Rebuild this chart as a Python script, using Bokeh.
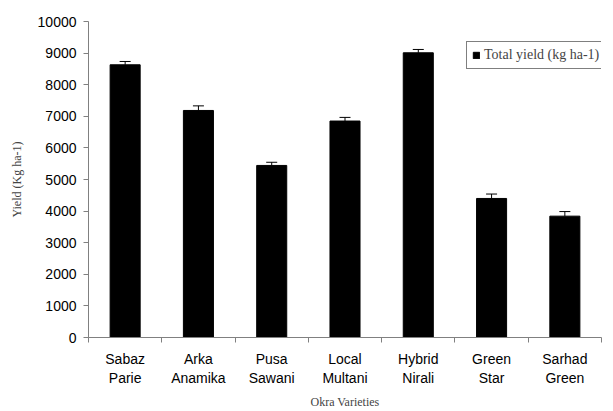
from bokeh.plotting import figure
from bokeh.models import ColumnDataSource, Whisker, FixedTicker, Legend, LegendItem, Range1d
from bokeh.embed import file_html
from bokeh.resources import INLINE

categories = ["Sabaz\nParie", "Arka\nAnamika", "Pusa\nSawani", "Local\nMultani",
              "Hybrid\nNirali", "Green\nStar", "Sarhad\nGreen"]
yield_values = [8630, 7185, 5445, 6850, 9010, 4400, 3840]
errors = [105, 145, 100, 115, 105, 140, 145]
y_ticks = [0, 1000, 2000, 3000, 4000, 5000, 6000, 7000, 8000, 9000, 10000]

xpos = [i + 0.5 for i in range(len(categories))]
upper = [v + e for v, e in zip(yield_values, errors)]
src = ColumnDataSource(dict(x=xpos, top=yield_values, upper=upper))

p = figure(width=613, height=411, output_backend="svg", toolbar_location=None,
           x_range=Range1d(0, len(categories)), y_range=Range1d(0, 10000),
           min_border_left=88, min_border_top=21, min_border_bottom=74, min_border_right=12)
p.outline_line_color = None
p.grid.grid_line_color = None
p.background_fill_color = "white"
p.border_fill_color = "white"

r = p.vbar(x="x", top="top", width=0.41, bottom=0, source=src,
           fill_color="black", line_color="black")
w = Whisker(base="x", lower="top", upper="upper", source=src, line_color="black",
            line_width=1, dimension="height")
w.lower_head = None
w.upper_head.size = 11
w.upper_head.line_color = "black"
p.add_layout(w)

# x axis
xa = p.xaxis[0]
xa.ticker = FixedTicker(ticks=xpos, minor_ticks=list(range(len(categories) + 1)))
xa.major_label_overrides = {x: c for x, c in zip(xpos, categories)}
xa.major_tick_line_color = None
xa.major_tick_out = 0
xa.major_tick_in = 0
xa.minor_tick_line_color = "#808080"
xa.minor_tick_out = 5
xa.minor_tick_in = 0
xa.axis_line_color = "#808080"
xa.major_label_text_font = "Liberation Sans"
xa.major_label_text_font_size = "14px"
xa.major_label_text_color = "black"
xa.major_label_standoff = 8
xa.axis_label = "Okra Varieties"
xa.axis_label_text_font = "Liberation Serif"
xa.axis_label_text_font_style = "normal"
xa.axis_label_text_font_size = "12px"
xa.axis_label_standoff = 6

ya = p.yaxis[0]
ya.ticker = FixedTicker(ticks=y_ticks)
ya.minor_tick_line_color = None
ya.major_tick_line_color = "#808080"
ya.major_tick_out = 5
ya.major_tick_in = 0
ya.axis_line_color = "#808080"
ya.major_label_text_font = "Liberation Sans"
ya.major_label_text_font_size = "14px"
ya.major_label_text_color = "black"
ya.major_label_standoff = 7
ya.axis_label = "Yield (Kg ha-1)"
ya.axis_label_text_font = "Liberation Serif"
ya.axis_label_text_font_style = "normal"
ya.axis_label_text_font_size = "12px"
ya.axis_label_standoff = 11

legend = Legend(items=[LegendItem(label="Total yield (kg ha-1)", renderers=[r])],
                location=(378, 268))
legend.label_text_font = "Liberation Serif"
legend.label_text_font_size = "14px"
legend.glyph_width = 8
legend.glyph_height = 8
legend.label_standoff = 4
legend.padding = 5
legend.margin = 0
legend.spacing = 0
legend.label_height = 13
legend.border_line_color = "black"
legend.border_line_width = 1
legend.background_fill_alpha = 1
p.add_layout(legend)

open("out.html", "w").write(file_html(p, INLINE))
